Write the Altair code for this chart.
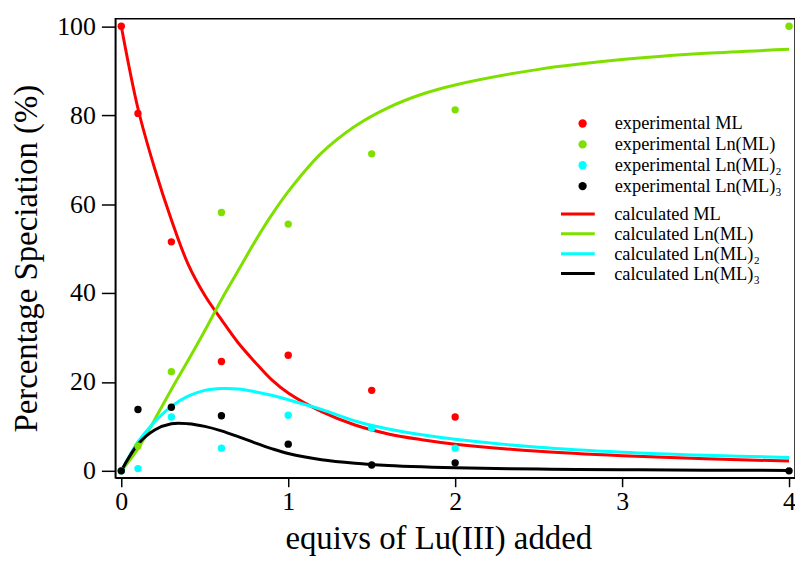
import altair as alt
import pandas as pd

# ---------------- data ----------------
exp_names = ["experimental ML", "experimental Ln(ML)", "experimental Ln(ML)₂", "experimental Ln(ML)₃"]
calc_names = ["calculated ML", "calculated Ln(ML)", "calculated Ln(ML)₂", "calculated Ln(ML)₃"]
colors = ["#FF0000", "#7FE000", "#00FFFF", "#000000"]

exp_x = [0, 0.1, 0.3, 0.6, 1, 1.5, 2, 4]
exp_ml = [100, 80.4, 51.5, 24.6, 26.0, 18.1, 12.1, None]
exp_lnml = [0, 5.6, 22.3, 58.1, 55.5, 71.3, 81.2, 100]
exp_lnml2 = [0, 0.5, 12.1, 5.1, 12.5, 9.6, 5.1, None]
exp_lnml3 = [0, 13.8, 14.3, 12.4, 6.0, 1.3, 1.8, 0]

calc_x = [0, 0.1, 0.2, 0.3, 0.4, 0.5, 0.6, 0.7, 0.8, 0.9, 1.0, 1.2, 1.4, 1.6, 1.8, 2.0, 2.5, 3.0, 3.5, 4.0]
calc_ml = [100, 81.5, 68, 56.5, 46.5, 39.5, 34, 28.8, 24.5, 20.5, 17.5, 13.3, 10.3, 8.3, 7.0, 6.0, 4.4, 3.4, 2.7, 2.2]
calc_lnml = [0, 5, 11.5, 18.3, 24.8, 31.5, 38.5, 45, 51.5, 57.5, 62.8, 71.5, 77.5, 81.7, 84.7, 86.8, 90.3, 92.5, 93.9, 94.8]
calc_lnml2 = [0, 6.5, 11, 14.5, 16.8, 18.1, 18.5, 18.4, 17.8, 17, 16, 13.8, 11.2, 9.4, 8.1, 7.1, 5.3, 4.2, 3.5, 3.0]
calc_lnml3 = [0, 6, 9.2, 10.6, 10.6, 10.0, 9.0, 7.7, 6.3, 5.0, 3.9, 2.5, 1.7, 1.2, 0.9, 0.7, 0.4, 0.25, 0.15, 0.1]

x_ticks = [0, 1, 2, 3, 4]
y_ticks = [0, 20, 40, 60, 80, 100]

# ---------------- tables ----------------
rows = []
for name, vals in zip(exp_names, [exp_ml, exp_lnml, exp_lnml2, exp_lnml3]):
    for i, (x, y) in enumerate(zip(exp_x, vals)):
        if y is not None:
            rows.append({"x": x, "y": y, "series": name, "o": i})
exp_df = pd.DataFrame(rows)

rows = []
for name, vals in zip(calc_names, [calc_ml, calc_lnml, calc_lnml2, calc_lnml3]):
    for i, (x, y) in enumerate(zip(calc_x, vals)):
        rows.append({"x": x, "y": y, "series": name, "o": i})
calc_df = pd.DataFrame(rows)

FONT = "Liberation Serif"

x_enc = alt.X("x:Q", scale=alt.Scale(domain=[-0.0357, 4.0357], nice=False, zero=False),
              axis=alt.Axis(values=x_ticks, title="equivs of Lu(III) added", format="d",
                            tickSize=9, labelPadding=2, titlePadding=8, titleX=325, grid=False))
y_enc = alt.Y("y:Q", scale=alt.Scale(domain=[-1.56, 101.7], nice=False, zero=False),
              axis=alt.Axis(values=y_ticks, title="Percentage Speciation (%)",
                            tickSize=14, labelPadding=6, titlePadding=13, titleY=241, grid=False))

lines = alt.Chart(calc_df).mark_line(strokeWidth=3, interpolate="catmull-rom", clip=True).encode(
    x=x_enc, y=y_enc,
    order="o:Q",
    color=alt.Color("series:N",
                    scale=alt.Scale(domain=calc_names, range=colors),
                    legend=alt.Legend(title=None, orient="none", legendX=447, legendY=188,
                                      symbolType="stroke", symbolSize=1156, symbolStrokeWidth=3,
                                      clipHeight=17, labelOffset=18, rowPadding=1, padding=0,
                                      labelLimit=0,
                                      labelFont=FONT, labelFontSize=18.5, labelColor="black")),
)

points = alt.Chart(exp_df).mark_circle(size=55, opacity=1).encode(
    x=x_enc, y=y_enc,
    color=alt.Color("series:N",
                    scale=alt.Scale(domain=exp_names, range=colors),
                    legend=alt.Legend(title=None, orient="none", legendX=461, legendY=97,
                                      symbolType="circle", symbolSize=70, symbolOpacity=1,
                                      clipHeight=17, labelOffset=23, rowPadding=2, padding=0,
                                      labelLimit=0,
                                      labelFont=FONT, labelFontSize=18.5, labelColor="black")),
)

chart = alt.layer(lines, points).resolve_scale(color="independent").properties(
    width=684, height=462,
    autosize=alt.AutoSizeParams(type="none"),
    padding={"left": 108, "top": 9, "right": 0, "bottom": 80},
).configure_view(
    stroke="black", strokeWidth=1.5
).configure_axis(
    labelFont=FONT, titleFont=FONT, labelFontSize=26, titleFontSize=33,
    labelColor="black", titleColor="black", titleFontWeight="normal",
    domainColor="black", domainWidth=1.5, tickColor="black", tickWidth=1.5,
)

chart.save("out.html", embed_options={"renderer": "svg", "actions": False})
